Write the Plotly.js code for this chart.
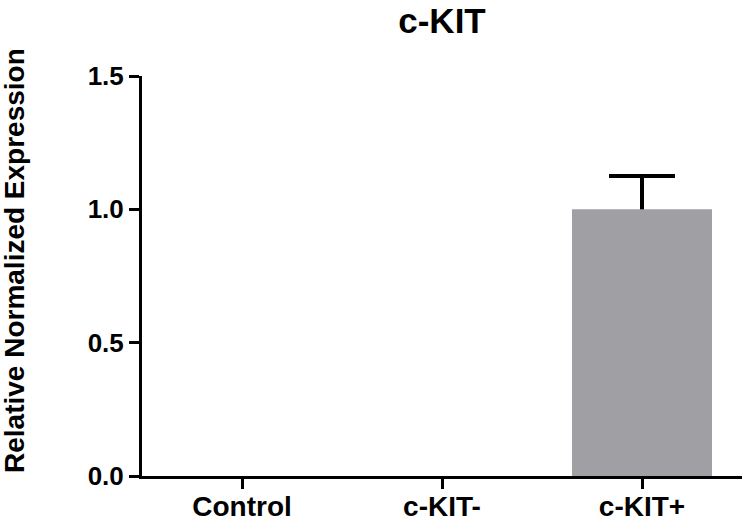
<!DOCTYPE html>
<html>
<head>
<meta charset="utf-8">
<script src="https://cdn.plot.ly/plotly-3.0.1.min.js"></script>
<style>html,body{margin:0;padding:0;background:#fff;}#chart{width:745px;height:521px;}</style>
</head>
<body>
<div id="chart"></div>
<script>
const categories = ["Control", "c-KIT-", "c-KIT+"];
const expression = [0, 0, 1.0];
const errorUp = [0, 0, 0.125];
const yTickVals = [0, 0.5, 1.0, 1.5];
const yTickText = ["0.0", "0.5", "1.0", "1.5"];

const FONT = "Liberation Sans, Arial, Helvetica, sans-serif";

// only categories that have an error bar
const errIdx = errorUp.map((e, i) => i).filter(i => errorUp[i] > 0);

// error bars drawn on the lower subplot, so the bar (on the overlaying axis) hides the downward stem
const errTrace = {
  type: "scatter",
  mode: "markers",
  x: errIdx.map(i => categories[i]),
  y: errIdx.map(i => expression[i]),
  marker: {opacity: 0, size: 1},
  error_y: {
    type: "data",
    symmetric: false,
    array: errIdx.map(i => errorUp[i]),
    arrayminus: errIdx.map(i => expression[i]),
    color: "#000000",
    thickness: 4,
    width: 33
  },
  xaxis: "x",
  yaxis: "y",
  hoverinfo: "skip"
};

const barTrace = {
  type: "bar",
  x: categories,
  y: expression,
  width: 0.7,
  marker: {color: "#a09fa4", line: {width: 0}},
  xaxis: "x",
  yaxis: "y2",
  hoverinfo: "skip"
};

const yCommon = {
  range: [0, 1.5],
  showgrid: false, zeroline: false,
  fixedrange: true
};

const layout = {
  width: 745,
  height: 521,
  margin: {l: 142, r: 3, t: 76, b: 45},
  paper_bgcolor: "#ffffff",
  plot_bgcolor: "#ffffff",
  showlegend: false,
  title: {
    text: "c-KIT",
    font: {family: FONT, size: 35, color: "#000", weight: "bold"},
    x: 0.5, xref: "paper", xanchor: "center",
    y: 1 - 21/521, yref: "container", yanchor: "middle"
  },
  xaxis: {
    type: "category",
    categoryarray: categories,
    categoryorder: "array",
    range: [-0.5, 2.5],
    showline: true, linecolor: "#000", linewidth: 3,
    ticks: "outside", ticklen: 10, tickwidth: 3, tickcolor: "#000",
    ticklabelstandoff: -7,
    showgrid: false, zeroline: false,
    tickfont: {family: FONT, size: 28, color: "#000", weight: "bold"},
    fixedrange: true
  },
  yaxis: Object.assign({}, yCommon, {
    tickvals: yTickVals,
    ticktext: yTickText,
    showline: true, linecolor: "#000", linewidth: 3,
    ticks: "outside", ticklen: 10, tickwidth: 3, tickcolor: "#000",
    tickfont: {family: FONT, size: 26, color: "#000", weight: "bold"}
  }),
  yaxis2: Object.assign({}, yCommon, {
    overlaying: "y",
    showline: false,
    showticklabels: false,
    ticks: ""
  }),
  annotations: [{
    text: "Relative Normalized Expression",
    xref: "paper", yref: "paper",
    x: (14 - 142) / 600, y: (476 - 261) / 400,
    xanchor: "center", yanchor: "middle",
    textangle: -90,
    showarrow: false,
    font: {family: FONT, size: 28, color: "#000", weight: "bold"}
  }]
};

Plotly.newPlot("chart", [errTrace, barTrace], layout, {displayModeBar: false, staticPlot: true});
</script>
</body>
</html>
